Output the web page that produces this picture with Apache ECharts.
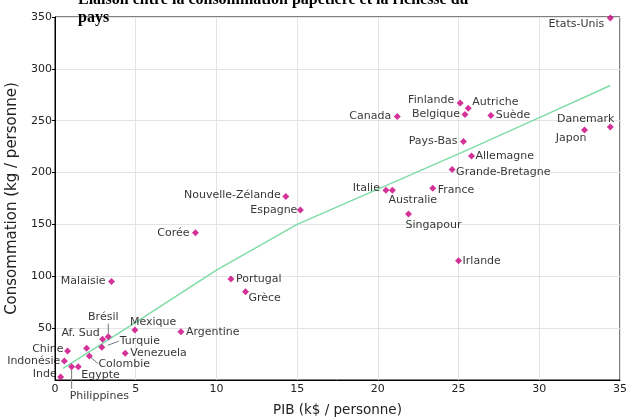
<!DOCTYPE html>
<html>
<head>
<meta charset="utf-8">
<script src="https://cdn.jsdelivr.net/npm/echarts@6/dist/echarts.min.js"></script>
<style>html,body{margin:0;padding:0;background:#fff;}#chart{width:626px;height:417px;}</style>
</head>
<body>
<div id="chart"></div>
<script>
// ---- data ----
const countries = ['Etats-Unis','Danemark','Japon','Finlande','Autriche','Belgique','Suède','Canada','Pays-Bas','Allemagne','Grande-Bretagne','France','Italie','Australie','Singapour','Irlande','Nouvelle-Zélande','Espagne','Corée','Portugal','Grèce','Malaisie','Mexique','Argentine','Brésil','Af. Sud','Turquie','','Venezuela','Chine','Colombie','Indonésie','Philippines','Egypte','Inde'];
const gdp   = [34.4, 34.4, 32.8, 25.1, 25.6, 25.4, 27.0, 21.2, 25.3, 25.8, 24.6, 23.4, 20.5, 20.9, 21.9, 25.0, 14.3, 15.2, 8.7, 10.9, 11.8, 3.5, 4.95, 7.8, 3.3, 2.95, 2.9, 1.96, 4.35, 0.78, 2.13, 0.58, 1.03, 1.44, 0.35];
const paper = [349, 244, 241, 267, 262, 256, 255, 254, 230, 216, 203, 185, 183, 183, 160, 115, 177, 164, 142, 97.5, 85, 95, 48.3, 46.6, 41.8, 39.3, 31.6, 30.6, 25.7, 28, 23.2, 18.3, 12.8, 12.8, 2.9];
const trendX = [0.5, 5, 10, 15, 20, 25, 30, 34.4];
const trendY = [11.3, 55.5, 106, 150, 184, 218, 253, 284];
const xTickValues = [0, 5, 10, 15, 20, 25, 30, 35];
const yTickValues = [0, 50, 100, 150, 200, 250, 300, 350];
const titleText = 'Liaison entre la consommation papetière et la richesse du\npays';
const xName = 'PIB (k$ / personne)';
const yName = 'Consommation (kg / personne)';

// ---- label placement styles (align, dx, dy in px) ----
const labelPlace = {
  'Etats-Unis': ['right', -6, 6], 'Danemark': ['right', 4, -8], 'Japon': ['right', 2, 8],
  'Finlande': ['right', -6, -3], 'Autriche': ['left', 4, -6], 'Belgique': ['right', -5, 0],
  'Suède': ['left', 5, 0], 'Canada': ['right', -6, 0], 'Pays-Bas': ['right', -6, 0],
  'Allemagne': ['left', 4, 0], 'Grande-Bretagne': ['left', 4, 3], 'France': ['left', 5, 2],
  'Italie': ['right', -6, -2], 'Australie': ['left', -4, 10], 'Singapour': ['left', -3, 11],
  'Irlande': ['left', 4, 0], 'Nouvelle-Zélande': ['right', -5, -1], 'Espagne': ['right', -3, 0],
  'Corée': ['right', -6, 0], 'Portugal': ['left', 5, 0], 'Grèce': ['left', 3, 6],
  'Malaisie': ['right', -6, 0], 'Mexique': ['left', -5, -8], 'Argentine': ['left', 5, 0],
  'Brésil': ['center', -5, -20], 'Af. Sud': ['right', -3, -6], 'Turquie': ['left', 18, -6],
  'Venezuela': ['left', 5, 0], 'Chine': ['right', -4, -2], 'Colombie': ['left', 9, 8],
  'Indonésie': ['right', -4, 0], 'Philippines': ['left', -2, 29], 'Egypte': ['left', 3, 8],
  'Inde': ['right', -4, -3]
};
const leaders = {
  'Brésil': [[0, -3], [0, -13]], 'Turquie': [[6, -2], [17, -6]],
  'Colombie': [[1, 1], [9, 8]], 'Philippines': [[0, 3], [0, 22]]
};

const scatterData = countries.map((c, i) => {
  const p = labelPlace[c];
  const item = { name: c, value: [gdp[i], paper[i]] };
  if (p) item.label = { align: p[0], offset: [p[1], p[2]] };
  else item.label = { show: false };
  return item;
});
const leaderData = countries.map((c, i) => leaders[c] ? { name: c, value: [gdp[i], paper[i]] } : null).filter(Boolean);
const trendData = trendX.map((x, i) => [x, trendY[i]]);

const chart = echarts.init(document.getElementById('chart'), null, { renderer: 'canvas' });
const tickFont = { fontFamily: 'DejaVu Sans', fontSize: 11, color: '#222' };
chart.setOption({
  animation: false,
  backgroundColor: '#fff',
  title: {
    text: titleText, left: 73, top: -14,
    textStyle: { fontFamily: 'Liberation Serif', fontWeight: 'bold', fontSize: 16, lineHeight: 18, color: '#000' },
    z: 10
  },
  grid: { left: 55, right: 6, top: 17, bottom: 37, show: true, borderColor: '#000', borderWidth: 1, containLabel: false, outerBoundsMode: 'none' },
  xAxis: {
    type: 'value', min: xTickValues[0], max: xTickValues[xTickValues.length - 1], interval: 5,
    name: xName, nameLocation: 'middle', nameGap: 23,
    nameTextStyle: { fontFamily: 'DejaVu Sans', fontSize: 13.5, color: '#222' },
    axisLine: { lineStyle: { color: '#000' } },
    axisTick: { show: false },
    axisLabel: Object.assign({ margin: 4 }, tickFont),
    splitLine: { show: true, lineStyle: { color: '#e4e4e4' } }
  },
  yAxis: {
    type: 'value', min: yTickValues[0], max: yTickValues[yTickValues.length - 1], interval: 50,
    name: yName, nameLocation: 'middle', nameGap: 35,
    nameTextStyle: { fontFamily: 'DejaVu Sans', fontSize: 15, color: '#222' },
    axisLine: { show: true, lineStyle: { color: '#000' } },
    axisTick: { show: true, length: 3, lineStyle: { color: '#000' } },
    axisLabel: Object.assign({ margin: 3, showMinLabel: false }, tickFont),
    splitLine: { show: true, lineStyle: { color: '#e4e4e4' } }
  },
  series: [
    {
      type: 'line', data: trendData, symbol: 'none', silent: true,
      lineStyle: { color: '#7fdca6', width: 1.5 }, z: 2
    },
    {
      type: 'custom', data: leaderData, silent: true, z: 3,
      renderItem: function (params, api) {
        const name = leaderData[params.dataIndex].name;
        const pt = api.coord([api.value(0), api.value(1)]);
        const o = leaders[name];
        return {
          type: 'line',
          shape: { x1: pt[0] + o[0][0], y1: pt[1] + o[0][1], x2: pt[0] + o[1][0], y2: pt[1] + o[1][1] },
          style: { stroke: '#777', lineWidth: 1 }
        };
      }
    },
    {
      type: 'scatter', data: scatterData, symbol: 'diamond', symbolSize: 7, z: 4,
      itemStyle: { color: '#c8007f' },
      label: {
        show: true, position: 'inside', formatter: '{b}', verticalAlign: 'middle',
        fontFamily: 'DejaVu Sans', fontSize: 11, color: '#000'
      }
    }
  ]
});
</script>
</body>
</html>
